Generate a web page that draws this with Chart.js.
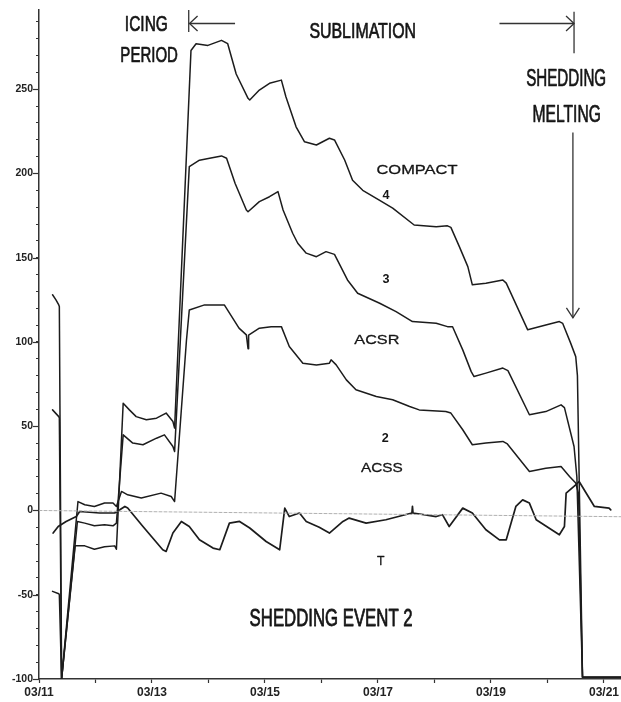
<!DOCTYPE html>
<html>
<head>
<meta charset="utf-8">
<script src="https://cdn.jsdelivr.net/npm/chart.js@4"></script>
<style>
  html, body { margin: 0; padding: 0; background: #ffffff; }
  #wrap { width: 621px; height: 702px; overflow: hidden; }
</style>
</head>
<body>
<div id="wrap"><canvas id="c" width="621" height="702"></canvas></div>
<script>
// ---- data (x = day of March, y = value) ----
const compactDays = [11.24,11.30,11.35,11.36,11.40,11.64,11.81,11.98,12.16,12.34,12.37,12.49,12.60,12.72,12.90,13.08,13.25,13.37,13.40,13.69,13.78,13.99,14.23,14.34,14.49,14.70,14.73,14.90,15.08,15.29,15.37,15.55,15.70,15.91,16.14,16.23,16.41,16.55,16.73,17.03,17.26,17.64,18.03,18.23,18.29,18.44,18.59,18.67,18.91,19.21,19.27,19.65,19.97,20.21,20.27,20.41,20.50,20.53,20.62,21.30];
const compactVals = [128,125,122,121,-100,-21,-21,-23,-21.5,-21,-23,63.7,59.7,55.7,53.8,54.8,57.8,52.8,48.9,273,277,276,279,277,259,244.6,243.6,249.5,253.5,255.4,245.5,227.7,218.8,216.9,220.9,219.9,208,196,190,184,179.4,169.4,168.4,168.9,168,156.6,144.7,133.9,134.9,136.8,134.9,107.2,110.1,112.1,111,99.3,91.3,80,-99,-99];

const acsrDays = [11.24,11.35,11.36,11.40,11.68,11.81,11.98,12.16,12.31,12.37,12.49,12.66,12.84,13.08,13.22,13.37,13.40,13.66,13.84,14.02,14.23,14.32,14.47,14.67,14.70,14.90,15.08,15.23,15.32,15.49,15.58,15.73,15.91,16.08,16.23,16.46,16.64,17.03,17.32,17.61,18.03,18.23,18.32,18.50,18.65,18.70,18.91,19.21,19.30,19.68,19.97,20.24,20.30,20.47,20.52,20.62,21.30];
const acsrVals = [59.7,55.7,55,-100,-6.5,-7.5,-9.1,-8.5,-9.1,-7.5,44.9,40,39,42.9,44.9,38,35,204,207.9,209,210.4,209,194.2,178.3,177.3,183.3,186.2,189.2,178.3,164.5,158.6,152.7,150.6,153.6,152,136.8,128.9,123,118,112.1,111.1,109.1,109,95.3,82.4,79.5,81.5,84.5,83,56.8,58.7,62.7,61,38,20,-99,-99];

const acssDays = [11.24,11.35,11.36,11.40,11.69,11.81,11.98,12.16,12.31,12.37,12.46,12.57,12.81,13.16,13.34,13.40,13.61,13.66,13.93,14.28,14.54,14.67,14.70,14.71,14.90,15.11,15.29,15.43,15.67,15.91,16.14,16.17,16.26,16.44,16.61,16.97,17.26,17.56,17.73,18.20,18.29,18.50,18.67,18.91,19.21,19.29,19.68,19.97,20.24,20.39,20.50,20.55,20.62,21.30];
const acssVals = [-48,-49.4,-50,-100,5.3,3.4,2.4,4.4,4.4,2.4,11.3,9.3,7.4,10.3,8.3,5.3,101,119,122,122,108.2,104.2,96,104,108.2,109.1,109.1,97.3,87.4,86.4,87.4,89.4,86.4,77.5,71.6,67.6,65.7,61.7,59.7,58.7,57.8,47.9,39,40,41,39.5,23.1,25.1,26.1,20.2,16.3,10,-99,-99];

const tempDays = [11.25,11.34,11.48,11.66,11.72,12.07,12.34,12.43,12.52,12.57,12.84,13.19,13.25,13.37,13.52,13.66,13.84,14.08,14.20,14.37,14.55,14.73,15.02,15.26,15.35,15.43,15.61,15.73,15.96,16.14,16.38,16.49,16.79,17.14,17.60,17.61,17.62,18.03,18.14,18.26,18.50,18.67,18.91,19.15,19.27,19.44,19.56,19.68,19.80,20.21,20.30,20.33,20.50,20.56,20.83,21.09,21.12];
const tempVals = [-13.4,-9.5,-6.5,-3.6,-0.6,-1.5,-1.5,0.4,2.4,1.5,-9.5,-23.3,-24.3,-13.4,-6.5,-9.5,-17.4,-22.3,-23.3,-7.5,-6.5,-10.4,-18.4,-23.3,1.4,-3.6,-1.5,-6.5,-10,-13.4,-6.5,-4.5,-7.5,-5.5,-1.5,2.4,-1.5,-3.6,-2.5,-9.5,1.4,-1.5,-11.4,-17.4,-17.4,2.4,6.3,4.4,-5.5,-14.4,-9.5,10.3,15.2,17.2,2.4,1.4,0.4];

const zeroDays = [11.0, 21.3];
const zeroVals = [0, -3.7];

const xTickDays = [11,13,15,17,19,21];   // labelled days
const yTickLabels = [-100,-50,0,50,100,150,200,250];

function pts(xs, ys) { return xs.map((x, i) => ({ x: x, y: ys[i] })); }

// ---- annotations (in data coordinates) ----
const texts = [
  { t: 'ICING', d: 12.90, v: 289.2, size: 22, w: 43, weight: 'normal', stroke: 0.7 },
  { t: 'PERIOD', d: 12.95, v: 270.9, size: 22, w: 57.6, weight: 'normal', stroke: 0.7 },
  { t: 'SUBLIMATION', d: 16.73, v: 285.1, size: 22, w: 106.7, weight: 'normal', stroke: 0.7 },
  { t: 'SHEDDING', d: 20.33, v: 256.7, size: 23, w: 80, weight: 'normal', stroke: 0.7 },
  { t: 'MELTING', d: 20.34, v: 235.3, size: 23, w: 68.3, weight: 'normal', stroke: 0.7 },
  { t: 'COMPACT', d: 17.69, v: 202.8, size: 13.5, w: 81, weight: 'normal', stroke: 0.3 },
  { t: '4', d: 17.14, v: 187.4, size: 12, w: 7, weight: 'bold', stroke: 0 },
  { t: '3', d: 17.14, v: 137.8, size: 12, w: 7, weight: 'bold', stroke: 0 },
  { t: 'ACSR', d: 16.98, v: 101.8, size: 13.5, w: 45, weight: 'normal', stroke: 0.3 },
  { t: '2', d: 17.13, v: 43.1, size: 12, w: 7, weight: 'bold', stroke: 0 },
  { t: 'ACSS', d: 17.07, v: 25.6, size: 13.5, w: 41.7, weight: 'normal', stroke: 0.3 },
  { t: 'T', d: 17.05, v: -29.2, size: 13.5, w: 7.5, weight: 'normal', stroke: 0.3 },
  { t: 'SHEDDING EVENT 2', d: 16.17, v: -63.3, size: 24, w: 163, weight: 'normal', stroke: 0.8 }
];

const annot = {
  id: 'annot',
  afterDraw(chart) {
    const ctx = chart.ctx;
    const xs = chart.scales.x, ys = chart.scales.y;
    const X = d => xs.getPixelForValue(d);
    const Y = v => ys.getPixelForValue(v);
    ctx.save();
    // longer major ticks on y axis
    ctx.strokeStyle = '#333';
    ctx.lineWidth = 1.2;
    const ax = chart.chartArea.left;
    yTickLabels.forEach(v => {
      const y = Math.round(Y(v)) + 0.5;
      ctx.beginPath(); ctx.moveTo(ax - 6, y); ctx.lineTo(ax, y); ctx.stroke();
    });
    // texts
    ctx.fillStyle = '#151515';
    ctx.strokeStyle = '#151515';
    texts.forEach(o => {
      ctx.font = o.weight + ' ' + o.size + 'px "Liberation Sans", Arial, sans-serif';
      const m = ctx.measureText(o.t).width;
      const sx = o.w / m;
      const cap = o.size * 0.716;
      ctx.save();
      ctx.translate(X(o.d), Y(o.v) + cap / 2);
      ctx.scale(sx, 1);
      ctx.textAlign = 'center';
      ctx.textBaseline = 'alphabetic';
      ctx.fillText(o.t, 0, 0);
      if (o.stroke > 0) { ctx.lineWidth = o.stroke; ctx.lineJoin = 'round'; ctx.strokeText(o.t, 0, 0); }
      ctx.restore();
    });
    // arrows
    ctx.strokeStyle = '#333';
    ctx.lineWidth = 1.3;
    const line = (x1, y1, x2, y2) => { ctx.beginPath(); ctx.moveTo(x1, y1); ctx.lineTo(x2, y2); ctx.stroke(); };
    // icing bracket and left arrow
    const lx = X(13.65);
    line(lx, Y(297), lx, Y(284));
    const ay = Y(289);
    line(X(14.47), ay, X(13.665), ay);
    ctx.beginPath(); ctx.moveTo(X(13.665) + 8, ay - 7.5); ctx.lineTo(X(13.665), ay); ctx.lineTo(X(13.665) + 8, ay + 7.5); ctx.stroke();
    // sublimation right arrow and bar
    const rx = X(20.47);
    line(rx, Y(296), rx, Y(271.3));
    line(X(19.15), ay, rx, ay);
    ctx.beginPath(); ctx.moveTo(rx - 8, ay - 7.5); ctx.lineTo(rx, ay); ctx.lineTo(rx - 8, ay + 7.5); ctx.stroke();
    // down arrow
    const dx = X(20.45);
    const dTop = Y(224.3), dBot = Y(114.3);
    line(dx, dTop, dx, dBot);
    ctx.beginPath(); ctx.moveTo(dx - 6.5, dBot - 10); ctx.lineTo(dx, dBot); ctx.lineTo(dx + 6.5, dBot - 10); ctx.stroke();
    ctx.restore();
  }
};

const lineColor = '#1c1c1c';
const ds = (label, xs, ys, color, width, dash) => ({
  label: label, data: pts(xs, ys), borderColor: color, borderWidth: width,
  borderDash: dash || [], pointRadius: 0, fill: false, tension: 0
});

new Chart(document.getElementById('c'), {
  type: 'line',
  data: {
    datasets: [
      ds('zero', zeroDays, zeroVals, '#b0b0b0', 1, [3, 2]),
      ds('COMPACT 4', compactDays, compactVals, lineColor, 1.5),
      ds('ACSR 3', acsrDays, acsrVals, lineColor, 1.5),
      ds('ACSS 2', acssDays, acssVals, lineColor, 1.5),
      ds('T', tempDays, tempVals, lineColor, 1.7)
    ]
  },
  options: {
    responsive: false,
    animation: false,
    devicePixelRatio: 1,
    layout: { padding: { top: 10, right: 0, left: 0, bottom: 0 } },
    plugins: { legend: { display: false }, tooltip: { enabled: false } },
    elements: { line: { borderJoinStyle: 'round', borderCapStyle: 'round' } },
    scales: {
      x: {
        type: 'linear', min: 11, max: 21.3,
        afterFit: s => { s.height = 23; },
        border: { color: '#333', width: 1.5 },
        grid: { drawOnChartArea: false, drawTicks: true, tickLength: 4, color: '#333', tickWidth: 1.2 },
        ticks: {
          stepSize: 1, includeBounds: false, autoSkip: false, maxRotation: 0, padding: 2,
          color: '#222', font: { family: '"Liberation Sans", Arial, sans-serif', size: 12, weight: 'bold' },
          callback: v => xTickDays.includes(v) ? '03/' + String(v).padStart(2, '0') : ''
        }
      },
      y: {
        min: -100, max: 297,
        afterFit: s => { s.width = 39; },
        border: { color: '#333', width: 1.5 },
        grid: { drawOnChartArea: false, drawTicks: true, tickLength: 3, color: '#333', tickWidth: 1.2 },
        ticks: {
          stepSize: 10, includeBounds: false, autoSkip: false, padding: 3,
          color: '#222', font: { family: '"Liberation Sans", Arial, sans-serif', size: 10.5, weight: 'bold' },
          callback: v => yTickLabels.includes(v) ? String(v) : ''
        }
      }
    }
  },
  plugins: [annot]
});
</script>
</body>
</html>
